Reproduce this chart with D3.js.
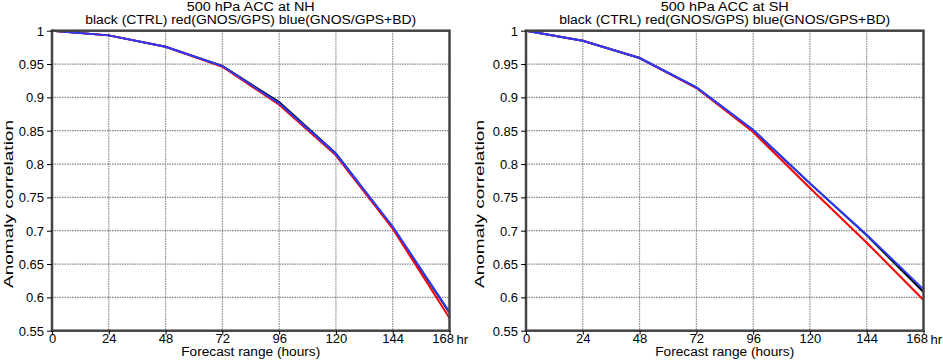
<!DOCTYPE html>
<html><head><meta charset="utf-8">
<script src="https://cdn.jsdelivr.net/npm/d3@7"></script>
<style>body{margin:0;background:#fff}svg{display:block}text{font-family:"Liberation Sans",Arial,sans-serif;fill:#000}</style>
</head><body><svg id="c" width="943" height="360"></svg>
<script>
const hours = [0, 24, 48, 72, 96, 120, 144, 168];
const xTicks = ["0","24","48","72","96","120","144","168"];
const yTicks = [0.55,0.6,0.65,0.7,0.75,0.8,0.85,0.9,0.95,1];
const yTickLabels = ["0.55","0.6","0.65","0.7","0.75","0.8","0.85","0.9","0.95","1"];
const nhCtrl = [1.0, 0.993, 0.976, 0.947, 0.893, 0.816, 0.705, 0.577];
const nhGps  = [1.0, 0.993, 0.976, 0.946, 0.889, 0.813, 0.703, 0.569];
const nhBd   = [1.0, 0.993, 0.976, 0.947, 0.891, 0.815, 0.706, 0.578];
const shCtrl = [1.0, 0.985, 0.959, 0.915, 0.851, 0.771, 0.693, 0.608];
const shGps  = [1.0, 0.985, 0.959, 0.914, 0.848, 0.764, 0.682, 0.596];
const shBd   = [1.0, 0.985, 0.959, 0.915, 0.851, 0.771, 0.694, 0.612];
const panels = [
  {title:"500 hPa ACC at NH", series:[nhCtrl,nhGps,nhBd], x0:52, x1:449.5, ylx:13},
  {title:"500 hPa ACC at SH", series:[shCtrl,shGps,shBd], x0:526, x1:923.5, ylx:484}
];
const subtitle = "black (CTRL) red(GNOS/GPS)  blue(GNOS/GPS+BD)";
const colors = ["#000000","#ff0000","#2a3cff"];
const svg = d3.select("#c");
const yTop = 30.7, yBot = 330.7;
const FF = '"Liberation Sans",Arial,sans-serif';
panels.forEach(p => {
  const g = svg.append("g");
  const x = d3.scaleLinear().domain([0,168]).range([p.x0,p.x1]);
  const y = d3.scaleLinear().domain([0.55,1]).range([yBot,yTop]);
  // grid
  g.selectAll(".vg").data(hours.slice(1,-1)).enter().append("line")
    .attr("x1",d=>x(d)).attr("x2",d=>x(d)).attr("y1",yTop).attr("y2",yBot)
    .attr("stroke","#888").attr("stroke-width",1.2).attr("stroke-dasharray","1.5,1");
  g.selectAll(".hg").data(yTicks.slice(1,-1)).enter().append("line")
    .attr("x1",p.x0).attr("x2",p.x1).attr("y1",d=>y(d)).attr("y2",d=>y(d))
    .attr("stroke","#888").attr("stroke-width",1.2).attr("stroke-dasharray","1.5,1");
  // lines
  const line = d3.line().x((d,i)=>x(hours[i])).y(d=>y(d));
  p.series.forEach((s,k)=>{
    g.append("path").datum(s).attr("d",line).attr("fill","none")
      .attr("stroke",colors[k]).attr("stroke-width",2);
  });
  // frame
  g.append("rect").attr("x",p.x0).attr("y",yTop).attr("width",p.x1-p.x0).attr("height",yBot-yTop)
    .attr("fill","none").attr("stroke","#444").attr("stroke-width",2.5);
  // y axis
  const ya = d3.axisLeft(y).tickValues(yTicks).tickFormat((d,i)=>yTickLabels[i]).tickSize(5).tickPadding(3);
  const yg = g.append("g").attr("transform",`translate(${p.x0},0)`).call(ya);
  yg.select(".domain").remove();
  yg.selectAll("text").attr("font-size",13).style("font-family",FF).attr("dy","0.35em");
  // x axis
  const xa = d3.axisBottom(x).tickValues(hours).tickFormat((d,i)=>xTicks[i]).tickSize(4).tickPadding(0);
  const xg = g.append("g").attr("transform",`translate(0,${yBot})`).call(xa);
  xg.select(".domain").remove();
  xg.selectAll("text").attr("font-size",13).style("font-family",FF).attr("y",3.5).attr("dy","0.71em");
  xg.selectAll("text").filter((d,i)=>i===hours.length-1).attr("text-anchor","end").attr("dx",4);
  g.append("text").attr("x",p.x1+7).attr("y",yBot+13.5).attr("font-size",13).text("hr");
  // titles
  const cx = (p.x0+p.x1)/2;
  g.append("text").attr("x",cx).attr("y",11).attr("text-anchor","middle").attr("font-size",12.5)
    .attr("textLength",128).attr("lengthAdjust","spacingAndGlyphs").text(p.title);
  g.append("text").attr("x",cx).attr("y",23.5).attr("text-anchor","middle").attr("font-size",12.5)
    .attr("textLength",331).attr("lengthAdjust","spacingAndGlyphs").text(subtitle);
  g.append("text").attr("x",cx).attr("y",356).attr("text-anchor","middle").attr("font-size",12)
    .attr("textLength",139).attr("lengthAdjust","spacingAndGlyphs").text("Forecast range (hours)");
  g.append("text").attr("transform",`translate(${p.ylx},204) rotate(-90)`)
    .attr("text-anchor","middle").attr("font-size",12.5)
    .attr("textLength",168).attr("lengthAdjust","spacingAndGlyphs").text("Anomaly correlation");
});
</script></body></html>
